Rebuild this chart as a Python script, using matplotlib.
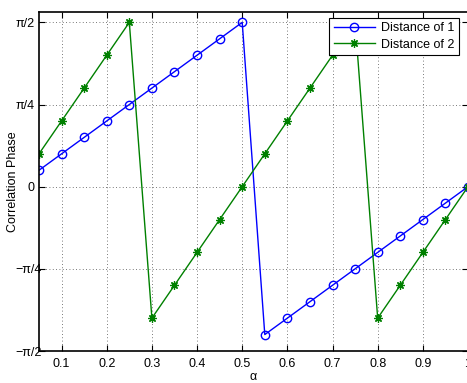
import numpy as np
import matplotlib
matplotlib.use("Agg")
import matplotlib.pyplot as plt
from matplotlib.transforms import ScaledTranslation

alpha = [0.05, 0.10, 0.15, 0.20, 0.25, 0.30, 0.35, 0.40, 0.45, 0.50,
         0.55, 0.60, 0.65, 0.70, 0.75, 0.80, 0.85, 0.90, 0.95, 1.00]
# phase values in units of pi
dist1_pi = [0.05, 0.10, 0.15, 0.20, 0.25, 0.30, 0.35, 0.40, 0.45, 0.50,
            -0.45, -0.40, -0.35, -0.30, -0.25, -0.20, -0.15, -0.10, -0.05, 0.00]
dist2_pi = [0.10, 0.20, 0.30, 0.40, 0.50, -0.40, -0.30, -0.20, -0.10, 0.00,
            0.10, 0.20, 0.30, 0.40, 0.50, -0.40, -0.30, -0.20, -0.10, 0.00]
ytick_pi = [-0.5, -0.25, 0, 0.25, 0.5]
ytick_labels = ["\u2212\u03c0/2", "\u2212\u03c0/4", "0", "\u03c0/4", "\u03c0/2"]
xticks = [0.1, 0.2, 0.3, 0.4, 0.5, 0.6, 0.7, 0.8, 0.9, 1.0]
xtick_labels = ["0.1", "0.2", "0.3", "0.4", "0.5", "0.6", "0.7", "0.8", "0.9", "1"]

plt.rcParams['font.family'] = ['Liberation Sans', 'DejaVu Sans']

fig = plt.figure(figsize=(4.67, 3.83), dpi=100)
ax = fig.add_axes([39/467, 32/383, 429/467, 339/383])

ax.plot(alpha, np.array(dist1_pi) * np.pi, color=(0, 0, 1), marker='o',
        markerfacecolor='none', markersize=6, markeredgewidth=1,
        linewidth=1, label='Distance of 1')
ax.plot(alpha, np.array(dist2_pi) * np.pi, color=(0, 0.5, 0), marker=(8, 2, 0),
        markersize=6, markeredgewidth=0.9, linewidth=1, label='Distance of 2')

ax.set_xlim(0.05, 1.0)
ax.set_ylim(-np.pi / 2, 1.67)
ax.set_xticks(xticks)
ax.set_xticklabels(xtick_labels)
ax.set_yticks(np.array(ytick_pi) * np.pi)
ax.set_yticklabels(ytick_labels)
ax.tick_params(direction='in', top=True, right=True, labelsize=9, length=4, width=0.8)
ax.tick_params(axis='y', pad=3)
ax.tick_params(axis='x', pad=5)
ax.grid(True, linestyle=(0, (1, 3)), color='0.3', linewidth=0.6)
for s in ax.spines.values():
    s.set_linewidth(1.2)

for lbl in ax.get_yticklabels():
    if lbl.get_text().startswith("\u2212"):
        lbl.set_transform(lbl.get_transform() + ScaledTranslation(7/100, 0, fig.dpi_scale_trans))

ax.set_xlabel("\u03b1", fontsize=9, labelpad=1)
ax.set_ylabel("Correlation Phase", fontsize=9, labelpad=1)
ax.yaxis.set_label_coords(-20/429, 0.5)

leg = ax.legend(loc='upper right', fontsize=9, fancybox=False, framealpha=1,
                edgecolor='black', borderpad=0.35, labelspacing=0.35,
                handlelength=3.3, handletextpad=0.5, borderaxespad=0,
                bbox_to_anchor=(1 - 9/429, 1 - 6/339))
leg.get_frame().set_linewidth(0.8)

fig.savefig("out.png", dpi=100)
